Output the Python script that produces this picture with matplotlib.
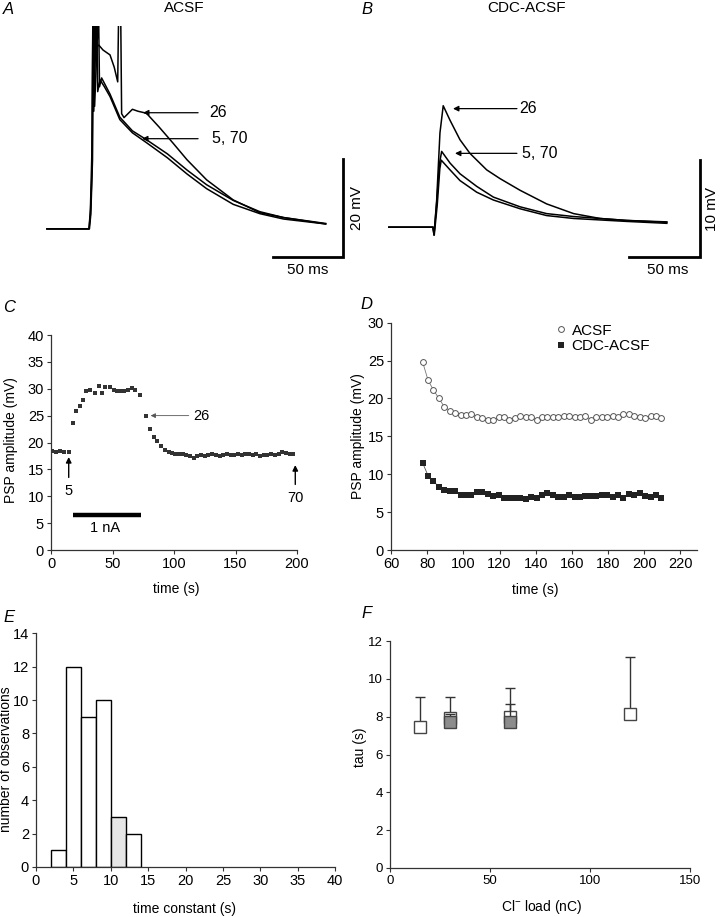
import matplotlib
matplotlib.use('Agg')
import matplotlib.pyplot as plt

plt.rcParams['font.family'] = ['Liberation Sans', 'DejaVu Sans']
plt.rcParams['font.size'] = 10

# --- A: ACSF traces (ms, mV) ---
a5_t = [0, 30, 31, 32.2, 32.8, 33.4, 35.5, 36.2, 37.9, 41, 45, 52, 61, 71, 86, 100, 114, 133, 152, 169, 199]
a5_v = [0, 0, 3, 12, 45, 24, 45, 28, 30.4, 29, 27, 22.3, 19.6, 17.6, 14.5, 11.2, 8.2, 5.0, 3.1, 2.0, 1.0]
a70_t = [0, 30.3, 31.3, 32.5, 33.3, 34, 36.8, 37.5, 39, 45, 52, 61, 71, 86, 100, 114, 133, 152, 169, 199]
a70_v = [0, 0, 3, 14, 45, 25, 45, 29, 30.8, 27.5, 22.8, 20.0, 18.2, 15.3, 12.0, 9.0, 5.8, 3.5, 2.3, 1.0]
a26_t = [0, 30, 31, 32, 32.8, 33.5, 34.3, 35, 37, 40, 45, 48, 50.5, 51.2, 52.6, 53.3, 55, 61, 65, 71,
         80, 90, 100, 114, 133, 152, 169, 199]
a26_v = [0, 0, 4, 15, 45, 30, 45, 37, 37.5, 36.5, 35.5, 33, 30, 45, 45, 23.5, 22.7, 24.4, 24.0, 23.6,
         20.8, 17.5, 14.1, 10.0, 5.9, 3.3, 2.3, 1.1]

# --- B: CDC-ACSF traces (ms, mV) ---
b26_t = [0, 31, 31.7, 33.6, 35.9, 38.2, 43, 50, 57, 68.8, 78.2, 92.3, 111, 130, 148.6, 167, 195.6]
b26_v = [0, 0, -0.8, 2.8, 9.7, 12.5, 11.0, 9.0, 7.6, 5.9, 5.0, 3.8, 2.4, 1.4, 0.9, 0.7, 0.55]
b5_t = [0, 31, 31.7, 33.6, 35.5, 37.1, 43, 50, 61.8, 73.5, 92.3, 111, 130, 167, 195.6]
b5_v = [0, 0, -0.8, 2.5, 6.5, 7.8, 6.6, 5.5, 4.2, 3.1, 2.1, 1.4, 1.1, 0.7, 0.5]
b70_t = [0, 31, 31.9, 34, 35.8, 36.8, 43, 50, 61.8, 73.5, 92.3, 111, 130, 167, 195.6]
b70_v = [0, 0, -0.8, 2.3, 6.0, 6.9, 5.9, 4.8, 3.6, 2.8, 1.9, 1.2, 0.9, 0.6, 0.4]

# --- C: PSP amplitude vs time ---
c_t = [0.8, 4.1, 7.0, 10.3, 14.4, 17.9, 20.6, 23.3, 26, 28.7, 31.4, 36, 38.8, 41.5, 44.2, 47.7, 50.9,
       53.7, 56.4, 59.6, 62.6, 65.9, 68.6, 72.1, 77.2, 80.8, 83.5, 86.2, 89.4, 92.4, 95.7, 98.4,
       101, 104, 107, 110, 113, 116, 119, 122, 125, 128, 131, 134, 137, 140, 143, 146, 149, 152,
       155, 158, 161, 164, 167, 170, 173, 176, 179, 182, 185, 188, 191, 194, 197]
c_v = [18.5, 18.3, 18.5, 18.3, 18.2, 23.6, 25.9, 26.8, 28.0, 29.5, 29.8, 29.3, 30.6, 29.2, 30.4, 30.4, 29.8,
       29.6, 29.5, 29.6, 29.8, 30.1, 29.7, 28.9, 25.0, 22.5, 21.1, 20.2, 19.3, 18.6, 18.3, 18.0,
       17.9, 17.8, 17.8, 17.6, 17.4, 17.2, 17.5, 17.7, 17.5, 17.6, 17.8, 17.6, 17.5, 17.7, 17.8, 17.6, 17.7, 17.8,
       17.7, 17.9, 17.8, 17.7, 17.9, 17.5, 17.6, 17.7, 17.8, 17.6, 17.9, 18.2, 18.0, 17.9, 17.9]

# --- D: ACSF vs CDC-ACSF ---
d_t = [77.5, 80.5, 83.5, 86.5, 89.5, 92.5, 95.5, 98.5, 101.5, 104.5, 107.5, 110.5, 113.5, 116.5, 119.5,
       122.5, 125.5, 128.5, 131.5, 134.5, 137.5, 140.5, 143.5, 146.5, 149.5, 152.5, 155.5, 158.5, 161.5,
       164.5, 167.5, 170.5, 173.5, 176.5, 179.5, 182.5, 185.5, 188.5, 191.5, 194.5, 197.5, 200.5, 203.5,
       206.5, 209.5]
d_acsf = [24.8, 22.4, 21.1, 20.0, 18.9, 18.4, 18.1, 17.8, 17.8, 18.0, 17.6, 17.4, 17.2, 17.1, 17.5,
          17.6, 17.2, 17.4, 17.7, 17.5, 17.5, 17.2, 17.6, 17.6, 17.5, 17.6, 17.7, 17.7, 17.5, 17.6,
          17.7, 17.2, 17.6, 17.6, 17.6, 17.7, 17.5, 18.0, 17.9, 17.7, 17.6, 17.4, 17.7, 17.7, 17.4]
d_cdc = [11.5, 9.8, 9.1, 8.3, 7.9, 7.8, 7.8, 7.3, 7.2, 7.3, 7.6, 7.6, 7.4, 7.1, 7.3,
         6.8, 6.9, 6.8, 6.9, 6.7, 7.0, 6.9, 7.2, 7.5, 7.2, 7.0, 7.0, 7.3, 7.0, 7.0,
         7.1, 7.1, 7.1, 7.3, 7.2, 7.0, 7.3, 6.8, 7.4, 7.2, 7.5, 7.1, 7.0, 7.3, 6.9]

# --- E: histogram of time constants ---
e_left = [2, 4, 6, 8, 10, 12]
e_count = [1, 12, 9, 10, 3, 2]
e_fill = ['white', 'white', 'white', 'white', '#e6e6e6', 'white']

# --- F: tau vs Cl- load ---
f_open_x = [15, 30, 60, 120]
f_open_y = [7.45, 7.95, 8.0, 8.13]
f_open_top = [9.06, 9.05, 9.54, 11.18]
f_gray_x = [30, 60]
f_gray_y = [7.7, 7.74]
f_gray_top = [8.15, 8.68]

W, H = 720, 917
fig = plt.figure(figsize=(W / 100, H / 100), dpi=100)


def ax_px(l, t, r, b):
    return fig.add_axes([l / W, 1 - b / H, (r - l) / W, (b - t) / H])


def style(ax, size=10.5):
    for s in ['top', 'right']:
        ax.spines[s].set_visible(False)
    for s in ['left', 'bottom']:
        ax.spines[s].set_color('#333333')
        ax.spines[s].set_linewidth(0.9)
    ax.tick_params(direction='out', length=3, width=0.8, color='#333333', labelsize=size, pad=2)


def letter(x, y, s):
    fig.text(x / W, 1 - y / H, s, fontsize=12, style='italic', ha='left', va='center')


# ---------- A ----------
axA = ax_px(40, 26, 350, 270)
axA.set_xlim(-5, 216.4)
axA.set_ylim(-8.4, 41.4)
axA.axis('off')
for t, v in [(a5_t, a5_v), (a70_t, a70_v), (a26_t, a26_v)]:
    axA.plot(t, v, color='black', lw=1.1)
axA.plot([161.4, 211.4, 211.4], [-5.7, -5.7, 14.3], color='black', lw=2, clip_on=False,
         solid_joinstyle='miter')
axA.text(186, -7.0, '50 ms', ha='center', va='top', fontsize=11, clip_on=False)
axA.text(216.5, 4.3, '20 mV', rotation=90, ha='left', va='center', fontsize=11, clip_on=False)
arrow = dict(arrowstyle='-|>', color='black', lw=0.9, mutation_scale=8, shrinkA=0, shrinkB=0)
axA.annotate('', xy=(68.6, 23.7), xytext=(107.9, 23.7), arrowprops=arrow)
axA.text(115.7, 23.7, '26', va='center', ha='left', fontsize=11.5)
axA.annotate('', xy=(67.9, 18.4), xytext=(107.9, 18.4), arrowprops=arrow)
axA.text(117.9, 18.4, '5, 70', va='center', ha='left', fontsize=11.5)
fig.text(184 / W, 1 - 8 / H, 'ACSF', ha='center', va='center', fontsize=11)
letter(3, 9, 'A')

# ---------- B ----------
axB = ax_px(380, 26, 710, 270)
axB.set_xlim(-6.3, 226)
axB.set_ylim(-4.4, 20.7)
axB.axis('off')
for t, v in [(b5_t, b5_v), (b70_t, b70_v), (b26_t, b26_v)]:
    axB.plot(t, v, color='black', lw=1.1)
axB.plot([169, 219, 219], [-3.1, -3.1, 6.9], color='black', lw=2, clip_on=False,
         solid_joinstyle='miter')
axB.text(196, -3.7, '50 ms', ha='center', va='top', fontsize=11, clip_on=False)
axB.text(222.5, 1.9, '10 mV', rotation=90, ha='left', va='center', fontsize=11, clip_on=False)
axB.annotate('', xy=(45.1, 12.2), xytext=(90.1, 12.2), arrowprops=arrow)
axB.text(92, 12.2, '26', va='center', ha='left', fontsize=11.5)
axB.annotate('', xy=(46.5, 7.6), xytext=(90.1, 7.6), arrowprops=arrow)
axB.text(94, 7.6, '5, 70', va='center', ha='left', fontsize=11.5)
fig.text(526 / W, 1 - 8 / H, 'CDC-ACSF', ha='center', va='center', fontsize=11)
letter(361, 9, 'B')

# ---------- C ----------
axC = ax_px(51, 335, 297, 550)
style(axC)
axC.plot(c_t, c_v, 's', color='#333333', markersize=2.8, markeredgewidth=0)
axC.set_xlim(0, 200)
axC.set_ylim(0, 40)
axC.set_xticks([0, 50, 100, 150, 200])
axC.set_yticks(range(0, 41, 5))
axC.set_xlabel('time (s)', fontsize=10)
axC.set_ylabel('PSP amplitude (mV)', fontsize=10)
axC.xaxis.set_label_coords(0.51, -0.15)
axC.yaxis.set_label_coords(-0.134, 0.51)
arrow2 = dict(arrowstyle='-|>', color='black', lw=1.0, mutation_scale=8, shrinkA=0, shrinkB=0)
axC.annotate('', xy=(14.4, 17.3), xytext=(14.4, 13.5), arrowprops=arrow2)
axC.text(14.4, 11.0, '5', ha='center', va='center', fontsize=10.5)
axC.annotate('', xy=(198.6, 15.8), xytext=(198.6, 12.2), arrowprops=arrow2)
axC.text(198.6, 9.6, '70', ha='center', va='center', fontsize=10.5)
arrow3 = dict(arrowstyle='-|>', color='#555555', lw=0.6, mutation_scale=7, shrinkA=0, shrinkB=0)
axC.annotate('', xy=(81, 25.0), xytext=(112, 25.0), arrowprops=arrow3)
axC.text(116, 25.0, '26', ha='left', va='center', fontsize=10.5)
axC.plot([18, 73], [6.5, 6.5], color='black', lw=3.2, solid_capstyle='butt')
axC.text(44, 4.1, '1 nA', ha='center', va='center', fontsize=10.5)
letter(3, 308, 'C')

# ---------- D ----------
axD = ax_px(391, 322.7, 697, 550)
style(axD)
axD.plot(d_t, d_acsf, '-', color='#777777', lw=0.6, zorder=1)
axD.plot(d_t, d_acsf, 'o', color='white', markeredgecolor='#555555', markersize=4.2,
         markeredgewidth=0.7, label='ACSF', zorder=2)
axD.plot(d_t, d_cdc, '-', color='#555555', lw=0.6, zorder=1)
axD.plot(d_t, d_cdc, 's', color='#222222', markersize=3.8, markeredgewidth=0,
         label='CDC-ACSF', zorder=2)
axD.set_xlim(60, 229.2)
axD.set_ylim(0, 30)
axD.set_xticks(range(60, 221, 20))
axD.set_yticks(range(0, 31, 5))
axD.set_xlabel('time (s)', fontsize=10)
axD.set_ylabel('PSP amplitude (mV)', fontsize=10)
axD.xaxis.set_label_coords(0.47, -0.145)
axD.yaxis.set_label_coords(-0.085, 0.5)
axD.legend(frameon=False, loc='upper left', bbox_to_anchor=(0.51, 1.03), handlelength=0.8,
           handletextpad=0.3, labelspacing=0.1, fontsize=11, borderpad=0)
letter(360, 305, 'D')

# ---------- E ----------
axE = ax_px(36, 633.3, 335, 867)
style(axE)
axE.bar(e_left, e_count, width=2, align='edge', color=e_fill, edgecolor='black', linewidth=1.0)
axE.set_xlim(0, 40)
axE.set_ylim(0, 14)
axE.set_xticks(range(0, 41, 5))
axE.set_yticks(range(0, 15, 2))
axE.set_xlabel('time constant (s)', fontsize=10)
axE.set_ylabel('number of observations', fontsize=10)
axE.xaxis.set_label_coords(0.498, -0.15)
axE.yaxis.set_label_coords(-0.077, 0.46)
letter(3, 617, 'E')

# ---------- F ----------
axF = ax_px(390, 641, 690, 868)
style(axF, size=9.5)
axF.errorbar(f_open_x, f_open_y,
             yerr=[[0] * 4, [a - b for a, b in zip(f_open_top, f_open_y)]],
             fmt='none', ecolor='#333333', elinewidth=1.0, capsize=3.5, capthick=1.0, zorder=1)
axF.plot(f_open_x, f_open_y, 's', color='white', markeredgecolor='#444444', markersize=8,
         markeredgewidth=1.0, zorder=2)
axF.errorbar(f_gray_x, f_gray_y,
             yerr=[[0] * 2, [a - b for a, b in zip(f_gray_top, f_gray_y)]],
             fmt='none', ecolor='#333333', elinewidth=1.0, capsize=3.5, capthick=1.0, zorder=3)
axF.plot(f_gray_x, f_gray_y, 's', color='#8c8c8c', markeredgecolor='#444444', markersize=8,
         markeredgewidth=1.0, zorder=4)
axF.set_xlim(0, 150)
axF.set_ylim(0, 12)
axF.set_xticks([0, 50, 100, 150])
axF.set_yticks(range(0, 13, 2))
axF.set_xlabel(r'Cl$^{\mathregular{-}}$ load (nC)', fontsize=10)
axF.set_ylabel('tau (s)', fontsize=10)
axF.xaxis.set_label_coords(0.507, -0.13)
axF.yaxis.set_label_coords(-0.077, 0.53)
letter(361, 614, 'F')

fig.savefig('out.png', dpi=100)
